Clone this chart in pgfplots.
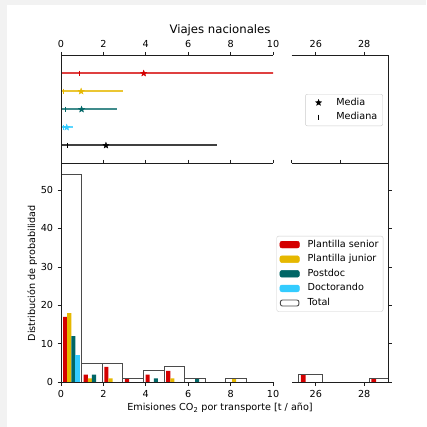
\documentclass[border=0pt]{standalone}
\usepackage{fontspec}
\setmainfont{DejaVu Sans}
\usepackage{pgfplots}
\pgfplotsset{compat=1.18}
\definecolor{cred}{RGB}{212,0,0}
\definecolor{cyel}{RGB}{230,184,0}
\definecolor{cteal}{RGB}{0,102,102}
\definecolor{ccyan}{RGB}{51,204,255}
\definecolor{spine}{RGB}{30,30,30}
\pgfdeclareplotmark{fstar}{%
 \pgfpathmoveto{\pgfpointpolar{90}{\pgfplotmarksize}}%
 \pgfpathlineto{\pgfpointpolar{126}{0.42\pgfplotmarksize}}%
 \pgfpathlineto{\pgfpointpolar{162}{\pgfplotmarksize}}%
 \pgfpathlineto{\pgfpointpolar{198}{0.42\pgfplotmarksize}}%
 \pgfpathlineto{\pgfpointpolar{234}{\pgfplotmarksize}}%
 \pgfpathlineto{\pgfpointpolar{270}{0.42\pgfplotmarksize}}%
 \pgfpathlineto{\pgfpointpolar{306}{\pgfplotmarksize}}%
 \pgfpathlineto{\pgfpointpolar{342}{0.42\pgfplotmarksize}}%
 \pgfpathlineto{\pgfpointpolar{18}{\pgfplotmarksize}}%
 \pgfpathlineto{\pgfpointpolar{54}{0.42\pgfplotmarksize}}%
 \pgfpathclose\pgfusepathqfillstroke}
\pgfplotsset{
 base/.style={scale only axis, anchor=south west, axis line style={draw=none},
   tick style={spine, line width=0.8pt}, major tick length=3.5pt, tick align=outside,
   clip mode=individual, /pgf/number format/assume math mode=true,
   ticklabel style={font=\fontsize{9.65}{11}\selectfont, inner sep=4.2pt}},
 mylegend/.style={legend style={draw=black!20, rounded corners=2pt, fill=white,
   font=\fontsize{9.65}{11}\selectfont, row sep=1.6pt, inner xsep=3pt, inner ysep=2pt,
   nodes={inner sep=1.5pt, text height=0.75em, text depth=0.25em}}, legend cell align=left},
}
\begin{document}
\begin{tikzpicture}[font=\fontsize{9.65}{11.5}\selectfont]
\useasboundingbox (0,0) rectangle (426pt,427pt);
\fill[black!5] (0,0) rectangle (426pt,427pt);
\fill[white] (7pt,0) rectangle (426pt,422pt);

% ---------- top left ----------
\begin{axis}[base, at={(61pt,263.5pt)}, width=212pt, height=108.2pt,
  xmin=0, xmax=10, ymin=-1, ymax=5, xtick={0,2,...,10}, xtick pos=right, xticklabel pos=right, ytick=\empty]
\addplot[color=cred!75, line width=2pt, mark=none] coordinates {(0,4) (12,4)};
\addplot[color=cred, only marks, mark=|, mark size=2.7pt, line width=1.1pt] coordinates {(0.88,4)};
\addplot[color=cred, only marks, mark=fstar, mark size=3.3pt, line width=0.3pt] coordinates {(3.9,4)};
\addplot[color=cyel!80, line width=2pt, mark=none] coordinates {(0,3) (2.92,3)};
\addplot[color=cyel, only marks, mark=|, mark size=2.7pt, line width=1.1pt] coordinates {(0.1,3)};
\addplot[color=cyel, only marks, mark=fstar, mark size=3.3pt, line width=0.3pt] coordinates {(0.95,3)};
\addplot[color=cteal!75, line width=2pt, mark=none] coordinates {(0,2) (2.65,2)};
\addplot[color=cteal, only marks, mark=|, mark size=2.7pt, line width=1.1pt] coordinates {(0.22,2)};
\addplot[color=cteal, only marks, mark=fstar, mark size=3.3pt, line width=0.3pt] coordinates {(0.97,2)};
\addplot[color=ccyan!80, line width=2pt, mark=none] coordinates {(0,1) (0.58,1)};
\addplot[color=ccyan, only marks, mark=|, mark size=2.7pt, line width=1.1pt] coordinates {(0.1,1)};
\addplot[color=ccyan, only marks, mark=fstar, mark size=3.3pt, line width=0.3pt] coordinates {(0.27,1)};
\addplot[color=black!75, line width=2pt, mark=none] coordinates {(0,0) (7.35,0)};
\addplot[color=black, only marks, mark=|, mark size=2.7pt, line width=1.1pt] coordinates {(0.31,0)};
\addplot[color=black, only marks, mark=fstar, mark size=3.3pt, line width=0.3pt] coordinates {(2.12,0)};
\draw[spine, line width=0.8pt] (rel axis cs:1,1) -- (rel axis cs:0,1) -- (rel axis cs:0,0) -- (rel axis cs:1,0);
\end{axis}

% ---------- top right ----------
\begin{axis}[base, mylegend, at={(291.7pt,263.5pt)}, width=96.6pt, height=108.2pt,
  xmin=25, xmax=29, ymin=-1, ymax=5, xtick={26,28}, xtick pos=right, xticklabel pos=right, ytick=\empty,
  legend style={at={(0.945,0.642)}, anchor=north east, inner xsep=4pt}]
\addlegendimage{legend image code/.code={\draw[black, fill=black, mark size=3.3pt, line width=0.3pt] plot[only marks, mark=fstar] coordinates {(9pt,0pt)}; \path (0pt,0pt) (25pt,0pt);}}
\addlegendentry{Media}
\addlegendimage{legend image code/.code={\draw[black, mark size=2.7pt, line width=1pt] plot[only marks, mark=|] coordinates {(9pt,0pt)}; \path (0pt,0pt) (25pt,0pt);}}
\addlegendentry{Mediana}
\draw[spine, line width=0.8pt] (rel axis cs:0,1) -- (rel axis cs:1,1) -- (rel axis cs:1,0) -- (rel axis cs:0,0);
\end{axis}

% ---------- bottom left ----------
\begin{axis}[base, at={(61pt,44.7pt)}, width=212pt, height=218.8pt,
  xmin=0, xmax=10, ymin=0, ymax=56.9, xtick={0,2,...,10}, xtick pos=both, xticklabel pos=left,
  ytick={0,10,...,50}, ytick pos=left]
\addplot[ybar, bar shift=0pt, bar width=0.1945, fill=cred, draw=none] coordinates {(0.1945,17)(1.167,2)(2.1395,4)(3.112,1)(4.0845,2)(5.057,3)};
\addplot[ybar, bar shift=0pt, bar width=0.1945, fill=cyel, draw=none] coordinates {(0.389,18)(1.3615,1)(2.334,1)(5.2515,1)(8.169,1)};
\addplot[ybar, bar shift=0pt, bar width=0.1945, fill=cteal, draw=none] coordinates {(0.5835,12)(1.556,2)(4.4735,1)(6.4185,1)};
\addplot[ybar, bar shift=0pt, bar width=0.1945, fill=ccyan, draw=none] coordinates {(0.778,7)};
\addplot[ybar interval, draw=spine!80, fill=none, line width=0.9pt] coordinates {(0,54)(0.9725,5)(1.945,5)(2.9175,1)(3.89,3)(4.8625,4)(5.835,1)(6.8075,0)(7.78,1)(8.7525,0)};
\draw[spine, line width=0.8pt] (rel axis cs:1,1) -- (rel axis cs:0,1) -- (rel axis cs:0,0) -- (rel axis cs:1,0);
\end{axis}

% ---------- bottom right ----------
\begin{axis}[base, mylegend, at={(291.7pt,44.7pt)}, width=96.6pt, height=218.8pt,
  xmin=25, xmax=29, ymin=0, ymax=56.9, xtick={26,28}, xtick pos=left, xticklabel pos=left,
  ytick={0,10,...,50}, ytick pos=right, yticklabels={},
  legend style={at={(0.948,0.669)}, anchor=north east, inner xsep=3pt}]
\addlegendimage{legend image code/.code={\fill[cred] (0pt,-3.4pt) rectangle (19.5pt,3.4pt); \path (0pt,0pt) (26pt,0pt);}}
\addlegendentry{Plantilla senior}
\addlegendimage{legend image code/.code={\fill[cyel] (0pt,-3.4pt) rectangle (19.5pt,3.4pt); \path (0pt,0pt) (26pt,0pt);}}
\addlegendentry{Plantilla junior}
\addlegendimage{legend image code/.code={\fill[cteal] (0pt,-3.4pt) rectangle (19.5pt,3.4pt); \path (0pt,0pt) (26pt,0pt);}}
\addlegendentry{Postdoc}
\addlegendimage{legend image code/.code={\fill[ccyan] (0pt,-3.4pt) rectangle (19.5pt,3.4pt); \path (0pt,0pt) (26pt,0pt);}}
\addlegendentry{Doctorando}
\addlegendimage{legend image code/.code={\draw[spine!80, line width=0.9pt, fill=white] (0.5pt,-3pt) rectangle (19pt,3pt); \path (0pt,0pt) (26pt,0pt);}}
\addlegendentry{Total}
\addplot[forget plot, ybar, bar shift=0pt, bar width=0.1945, fill=cred, draw=none] coordinates {(25.4795,2)(28.397,1)};
\addplot[forget plot, ybar interval, draw=spine!80, fill=none, line width=0.9pt] coordinates {(25.285,2)(26.2575,0)(27.23,0)(28.2025,1)(29.175,0)};
\draw[spine, line width=0.8pt] (rel axis cs:0,1) -- (rel axis cs:1,1) -- (rel axis cs:1,0) -- (rel axis cs:0,0);
\end{axis}

% ---------- top ticks of bottom right ----------
\begin{axis}[base, at={(291.7pt,44.7pt)}, width=96.6pt, height=218.8pt,
  xmin=25, xmax=29, ymin=0, ymax=56.9, xtick={25,27,29}, xtick pos=right, xticklabels={}, ytick=\empty]
\end{axis}

\node[anchor=base, font=\fontsize{11.7}{14}\selectfont] at (220pt,393pt) {Viajes nacionales};
\node[anchor=base] at (220pt,16.5pt) {Emisiones CO\textsubscript{2} por transporte [t / año]};
\node[rotate=90] at (32.2pt,153.7pt) {Distribución de probabilidad};
\end{tikzpicture}
\end{document}
